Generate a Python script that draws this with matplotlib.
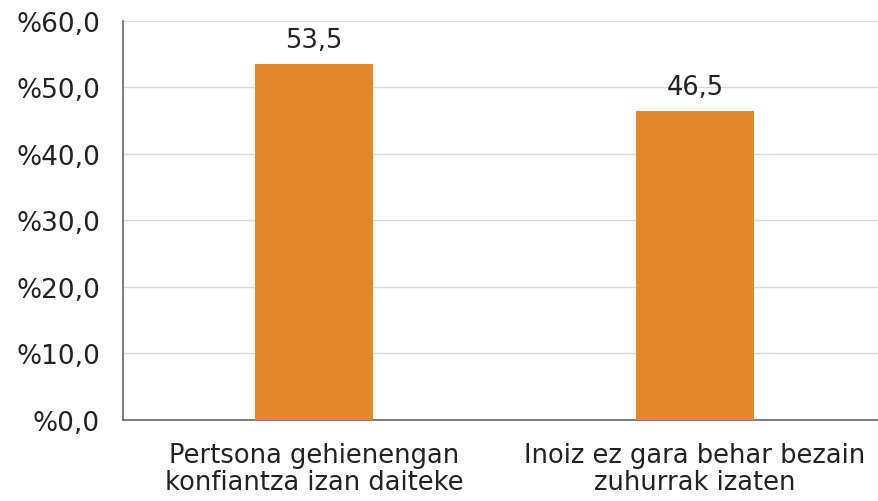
import matplotlib
matplotlib.use("Agg")
import matplotlib.pyplot as plt
from matplotlib.ticker import FuncFormatter

categories = ["Pertsona gehienengan\nkonfiantza izan daiteke",
              "Inoiz ez gara behar bezain\nzuhurrak izaten"]
values = [53.5, 46.5]
yticks = [0, 10, 20, 30, 40, 50, 60]

fig = plt.figure(figsize=(8.79, 5.02), dpi=100)
ax = fig.add_axes([0.1405, 0.1614, 0.867, 0.795])

x = range(len(categories))
ax.bar(x, values, width=0.31, color="#E6862A", zorder=3)
for xi, v in zip(x, values):
    ax.text(xi, v + 1.6, f"{v:.1f}".replace(".", ","), ha="center", va="bottom",
            fontsize=18.5, color="#222222")

ax.set_xlim(-0.5, 1.5)
ax.set_ylim(0, 60)
ax.set_yticks(yticks)
ax.yaxis.set_major_formatter(FuncFormatter(lambda v, p: f"%{v:.1f}".replace(".", ",")))
ax.set_xticks(list(x))
ax.set_xticklabels(categories, fontsize=18.5, color="#222222", linespacing=1.05)
ax.tick_params(axis="y", labelsize=19, labelcolor="#222222", length=0, pad=17)
ax.tick_params(axis="x", length=0, pad=16)
ax.grid(axis="y", color="#D9D9D9", linewidth=1, zorder=0)

for s in ["top", "right"]:
    ax.spines[s].set_visible(False)
for s in ["left", "bottom"]:
    ax.spines[s].set_color("#666666")
    ax.spines[s].set_linewidth(1.2)

fig.savefig("out.png", dpi=100)
